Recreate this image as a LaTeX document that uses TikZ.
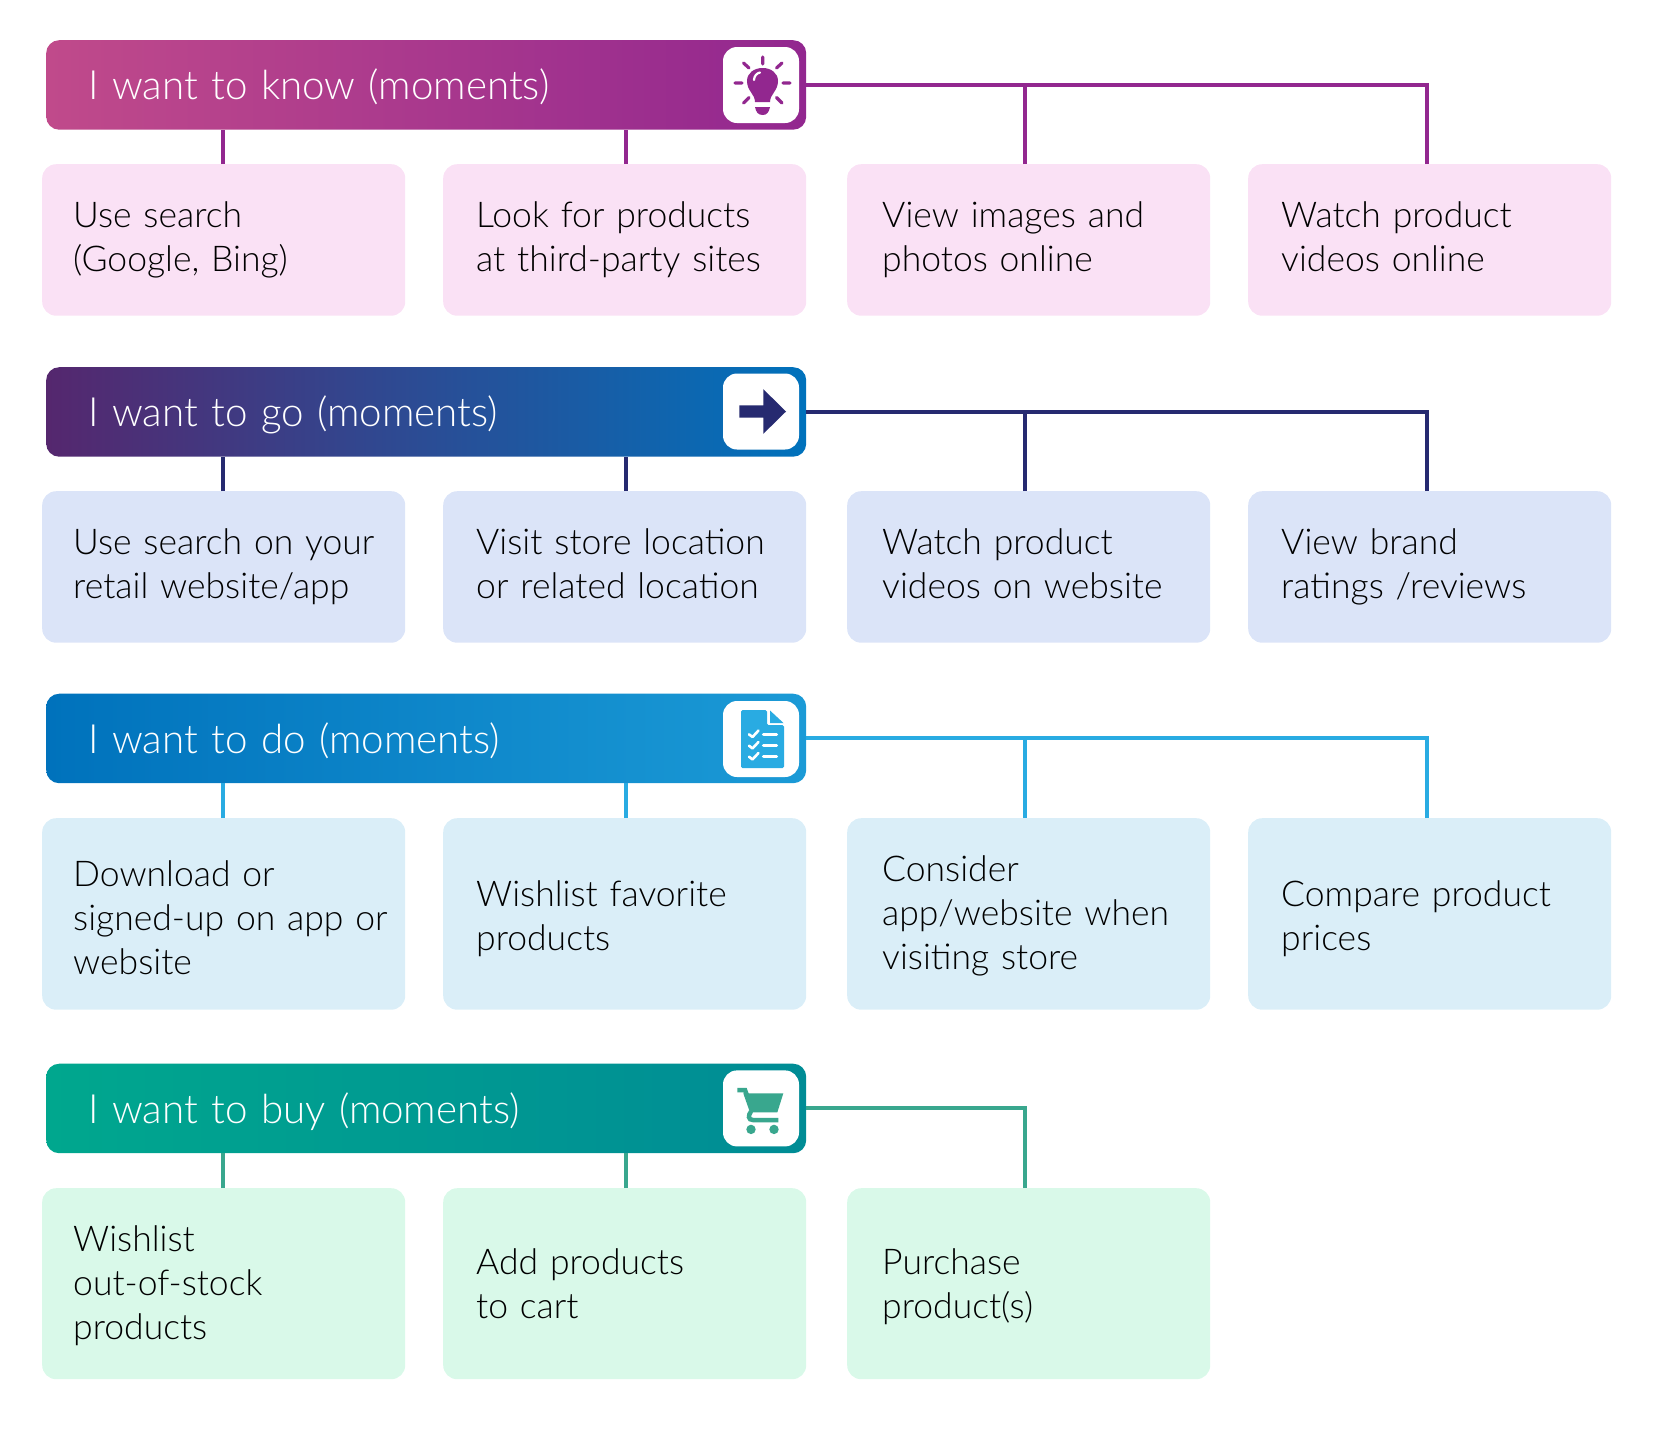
\documentclass[tikz,border=0pt]{standalone}
\usepackage{fontspec}
\setmainfont{Lato Light}
\definecolor{mA}{HTML}{92278F}\definecolor{mAl}{HTML}{C04A8B}\definecolor{bA}{HTML}{FAE1F5}
\definecolor{mB}{HTML}{262A70}\definecolor{mBl}{HTML}{55276E}\definecolor{mBr}{HTML}{0072BC}\definecolor{bB}{HTML}{DBE4F8}
\definecolor{mC}{HTML}{29ABE2}\definecolor{mCl}{HTML}{0072BC}\definecolor{mCr}{HTML}{1B9AD6}\definecolor{bC}{HTML}{DAEEF8}
\definecolor{mD}{HTML}{39A78E}\definecolor{mDl}{HTML}{00A78E}\definecolor{mDr}{HTML}{008C95}\definecolor{bD}{HTML}{D9F9E9}
\newcommand{\ins}[3][0]{\leftskip=#2pt\relax\strut\rule{0pt}{\dimexpr\ht\strutbox+#1pt\relax}#3\strut\par}
\tikzset{
  x=1pt,y=-1pt,
  tbox/.style={anchor=north west,inner sep=0pt,minimum width=363pt,text width=363pt,minimum height=#1,rounded corners=14pt,align=left,text=black,
    font=\fontsize{35.5}{44}\selectfont},
  hbox/.style 2 args={anchor=north west,inner sep=0pt,minimum width=760pt,text width=760pt,minimum height=89.5pt,rounded corners=13pt,align=left,text=white,
    left color=#1,right color=#2,font=\fontsize{40.3}{48}\selectfont},
  tile/.style={inner sep=0pt,minimum size=76pt,fill=white,rounded corners=14pt},
  conn/.style={line width=4pt}
}
\begin{document}
\begin{tikzpicture}
\useasboundingbox (0,0) rectangle (1653,1430);
% row 1
\node[tbox=151.5pt,fill=bA] (a1) at (42,164) {\ins[2]{31}{Use search\\(Google, Bing)}};
\node[tbox=151.5pt,fill=bA] (a2) at (443,164) {\ins[2]{33}{Look for products\\at third-party sites}};
\node[tbox=151.5pt,fill=bA] (a3) at (847,164) {\ins[2]{35}{View images and\\photos online}};
\node[tbox=151.5pt,fill=bA] (a4) at (1248,164) {\ins[2]{33}{Watch product\\videos online}};
\node[hbox={mAl}{mA}] (ha) at (46,40) {\ins[10.6]{42}{I want to know (moments)}};
\draw[conn,mA] ([xshift=-1pt]a1.north) -- ([xshift=-1pt]a1.north |- ha.south);
\draw[conn,mA] ([xshift=1.5pt]a2.north) -- ([xshift=1.5pt]a2.north |- ha.south);
\draw[conn,mA] ([xshift=-3.5pt]a3.north) |- (ha.east);
\draw[conn,mA] ([xshift=-3pt]a4.north) |- (ha.east);
\node[tile] (ia) at (761,85) {};
\begin{scope}[shift={(ia.center)},mA]
  \draw[line width=3.2pt,line cap=round] (1.7,-28) -- (1.7,-21) (-26,-2) -- (-19,-2) (22,-2) -- (29,-2)
     (-17.5,-22) -- (-12,-17) (21,-22) -- (15.5,-17) (-17.5,18) -- (-12,12.5) (21,18) -- (15.5,12.5);
  \fill (-6,17) .. controls (-6,9) and (-14,6) .. (-14,-4) .. controls (-14,-12) and (-7,-17) .. (1.7,-17)
     .. controls (10,-17) and (17,-12) .. (17,-4) .. controls (17,6) and (9,9) .. (9,17) -- cycle;
  \fill (-6,22) -- (9,22) .. controls (8,27) and (6,30) .. (1.7,30) .. controls (-3,30) and (-5,27) .. (-6,22) -- cycle;
  \draw[white,line width=2.2pt,line cap=round] (-7,-5) .. controls (-7,-9) and (-4,-12) .. (-1,-12.5);
\end{scope}
% row 2
\node[tbox=151.5pt,fill=bB] (b1) at (42,491) {\ins[2]{31}{Use search on your\\retail website/app}};
\node[tbox=151.5pt,fill=bB] (b2) at (443,491) {\ins[2]{33}{Visit store location\\or related location}};
\node[tbox=151.5pt,fill=bB] (b3) at (847,491) {\ins[2]{35}{Watch product\\videos on website}};
\node[tbox=151.5pt,fill=bB] (b4) at (1248,491) {\ins[2]{33}{View brand\\ratings /reviews}};
\node[hbox={mBl}{mBr}] (hb) at (46,367) {\ins[10.6]{42}{I want to go (moments)}};
\draw[conn,mB] ([xshift=-1pt]b1.north) -- ([xshift=-1pt]b1.north |- hb.south);
\draw[conn,mB] ([xshift=1.5pt]b2.north) -- ([xshift=1.5pt]b2.north |- hb.south);
\draw[conn,mB] ([xshift=-3.5pt]b3.north) |- (hb.east);
\draw[conn,mB] ([xshift=-3pt]b4.north) |- (hb.east);
\node[tile] (ib) at (761,411.5) {};
\fill[mB,shift={(ib.center)}] (-21.7,-6.2) -- (2.3,-6.2) -- (2.3,-22.3) -- (25,0) -- (2.3,22.3) -- (2.3,6.2) -- (-21.7,6.2) -- cycle;
% row 3
\node[tbox=191.5pt,fill=bC] (c1) at (42,818) {\ins[14.7]{31}{Download or\\signed-up on app or\\website}};
\node[tbox=191.5pt,fill=bC] (c2) at (443,818) {\ins[10.5]{33}{Wishlist favorite\\products}};
\node[tbox=191.5pt,fill=bC] (c3) at (847,818) {\ins[6.3]{35}{Consider\\app/website when\\visiting store}};
\node[tbox=191.5pt,fill=bC] (c4) at (1248,818) {\ins[10.5]{33}{Compare product\\prices}};
\node[hbox={mCl}{mCr}] (hc) at (46,693.5) {\ins[10.6]{42}{I want to do (moments)}};
\draw[conn,mC] ([xshift=-1pt]c1.north) -- ([xshift=-1pt]c1.north |- hc.south);
\draw[conn,mC] ([xshift=1.5pt]c2.north) -- ([xshift=1.5pt]c2.north |- hc.south);
\draw[conn,mC] ([xshift=-3.5pt]c3.north) |- (hc.east);
\draw[conn,mC] ([xshift=-3pt]c4.north) |- (hc.east);
\node[tile] (ic) at (761,739) {};
\begin{scope}[shift={(ic.center)}]
  \fill[mC,rounded corners=1.5pt] (-20,-29) -- (6,-29) -- (6,-14) -- (23,-14) -- (23,29) -- (-20,29) -- cycle;
  \fill[mC] (9,-28.5) -- (22.5,-16) -- (9,-16) -- cycle;
  \draw[white,line width=3.2pt,line cap=round] (2.5,-4.7) -- (15.5,-4.7) (2.5,6.7) -- (15.5,6.7) (2.5,17.7) -- (15.5,17.7);
  \draw[white,line width=2.6pt,line cap=round,line join=round]
    (-12,-4.7) -- (-8.5,-2) -- (-2.5,-8.5)
    (-12,6.7) -- (-8.5,9.4) -- (-2.5,3)
    (-12,17.7) -- (-8.5,20.4) -- (-2.5,14);
\end{scope}
% row 4
\node[tbox=191pt,fill=bD] (d1) at (42,1188) {\ins[6.3]{31}{Wishlist\\out-of-stock\\products}};
\node[tbox=191pt,fill=bD] (d2) at (443,1188) {\ins[8.4]{33}{Add products\\to cart}};
\node[tbox=191pt,fill=bD] (d3) at (847,1188) {\ins[8.4]{35}{Purchase\\product(s)}};
\node[hbox={mDl}{mDr}] (hd) at (46,1063.5) {\ins[10.6]{42}{I want to buy (moments)}};
\draw[conn,mD] ([xshift=-1pt]d1.north) -- ([xshift=-1pt]d1.north |- hd.south);
\draw[conn,mD] ([xshift=1.5pt]d2.north) -- ([xshift=1.5pt]d2.north |- hd.south);
\draw[conn,mD] ([xshift=-3.5pt]d3.north) |- (hd.east);
\node[tile] (id) at (761,1108.4) {};
\begin{scope}[shift={(id.center)},mD]
  \draw[line width=4.5pt] (-23.7,-18.4) -- (-16,-18.4) -- (-14,-13);
  \fill (-17.7,-15) -- (22.3,-15) -- (16.3,4) -- (-11,4) -- cycle;
  \draw[line width=4.5pt] (-10,3) .. controls (-13,7) and (-13,11.6) .. (-8,11.6) -- (17.3,11.6);
  \fill (-10,21) circle[radius=4.7] (13,21) circle[radius=4.7];
\end{scope}
\end{tikzpicture}
\end{document}
